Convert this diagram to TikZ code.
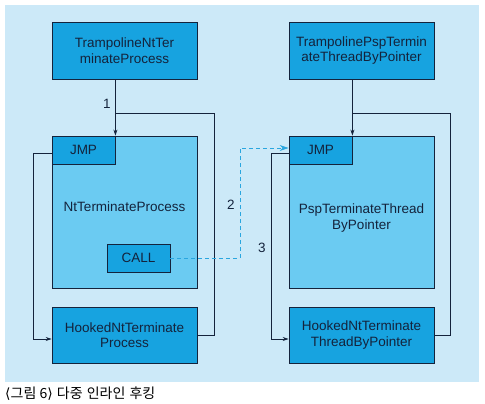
\documentclass[tikz,border=0pt]{standalone}
\usepackage{fontspec}
\setmainfont{Liberation Sans}
\newfontfamily\krfont{Noto Sans CJK KR}
\newfontfamily\djfont{DejaVu Sans}
\usetikzlibrary{arrows.meta}
\definecolor{bgblue}{HTML}{CCE9F8}
\definecolor{darkbox}{HTML}{17A3E0}
\definecolor{midbox}{HTML}{6BCBF2}
\definecolor{ink}{HTML}{14233C}
\definecolor{dashblue}{HTML}{2AA6DF}
\begin{document}
\begin{tikzpicture}[x=1pt,y=-1pt,
  every node/.style={font=\fontsize{13.5}{15.5}\selectfont, text=ink, inner sep=0pt, align=center},
  darkrect/.style={draw=ink, line width=0.8pt, fill=darkbox, minimum width=145pt},
  midrect/.style={draw=ink, line width=0.8pt, fill=midbox, minimum width=145pt, minimum height=152pt},
  smallrect/.style={draw=ink, line width=0.8pt, fill=darkbox, minimum width=63pt, minimum height=28pt},
  conn/.style={draw=ink, line width=0.8pt},
  tip/.style={-{Stealth[length=6pt,width=4pt]}},
  dashconn/.style={draw=dashblue, line width=0.8pt, dash pattern=on 4pt off 3pt, -{Stealth[length=9pt,width=6pt]}},
  numlabel/.style={font=\fontsize{13.5}{15}\selectfont}
]
\useasboundingbox (0,0) rectangle (485,404);
\fill[white] (0,0) rectangle (485,404);
\fill[bgblue] (5,5) rectangle (479,382);

% left column
\node[darkrect, minimum height=57pt] (tl) at (124.5,50.5) {TrampolineNtTer\\minateProcess};
\node[midrect] (ntp) at (124.5,212) {};
\node (ntptext) at (124.5,207) {NtTerminateProcess};
\node[smallrect, anchor=north west] (jmpL) at (ntp.north west) {JMP};
\node[smallrect] (call) at (138.5,258) {CALL};
\node[darkrect, minimum height=56pt] (hkL) at (124.5,335) {HookedNtTerminate\\Process};

% right column
\node[darkrect, minimum height=57pt] (tr) at (361.5,50.5) {TrampolinePspTermin\\ateThreadByPointer};
\node[midrect] (psp) at (361.5,212) {};
\node (psptext) at (361.5,218) {PspTerminateThread\\ByPointer};
\node[smallrect, anchor=north west] (jmpR) at (psp.north west) {JMP};
\node[darkrect, minimum height=56pt] (hkR) at (361.5,335) {HookedNtTerminate\\ThreadByPointer};

% left connectors
\draw[conn, tip] (jmpL.north east |- tl.south) -- (jmpL.north east);
\coordinate (rL) at (214,113);
\draw[conn] (jmpL.north east |- rL) -- (rL) |- (hkL.east);
\coordinate (lL) at (33,153);
\draw[conn, tip] (jmpL.west |- lL) -- (lL) |- ([yshift=-4pt]hkL.west);
\node[numlabel] (n1) at (107,104) {1};

% right connectors
\draw[conn, tip] (jmpR.north east |- tr.south) -- (jmpR.north east);
\coordinate (rR) at (450,113);
\draw[conn] (jmpR.north east |- rR) -- (rR) |- (hkR.east);
\coordinate (lR) at (271,153);
\draw[conn, tip] (jmpR.west |- lR) -- (lR) |- ([yshift=-4pt]hkR.west);
\node[numlabel] (n3) at (262,248) {3};

% dashed call
\coordinate (dc) at (240,148);
\draw[dashconn] (call.east) -| (dc) -- (jmpR.west |- dc);
\node[numlabel] (n2) at (231,205) {2};

% caption
\node[font=\krfont\fontsize{14}{16}\selectfont, text=black, anchor=west] (cap) at (5,394) {{\djfont ⟨}그림 6{\djfont ⟩}\kern1pt{} 다중\kern1pt{} 인라인\kern1pt{} 후킹};
\end{tikzpicture}
\end{document}
